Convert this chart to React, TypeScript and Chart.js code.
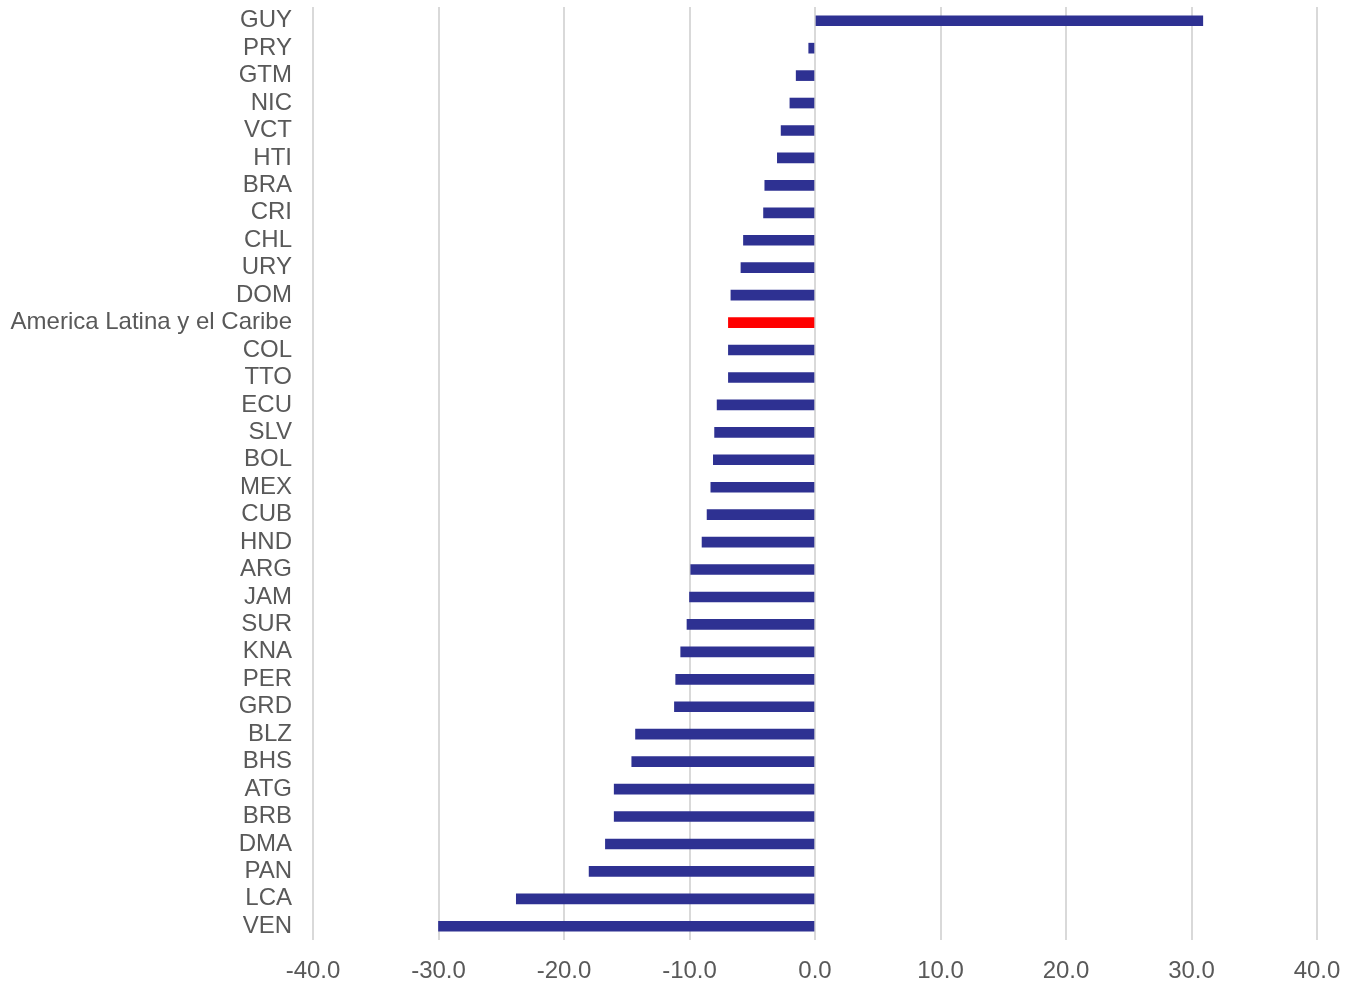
import React, { useEffect, useRef } from "react";
import { Chart, registerables } from "chart.js";

Chart.register(...registerables);

const categories: string[] = [
  "GUY", "PRY", "GTM", "NIC", "VCT", "HTI", "BRA", "CRI", "CHL", "URY", "DOM",
  "America Latina y el Caribe", "COL", "TTO", "ECU", "SLV", "BOL", "MEX", "CUB",
  "HND", "ARG", "JAM", "SUR", "KNA", "PER", "GRD", "BLZ", "BHS", "ATG", "BRB",
  "DMA", "PAN", "LCA", "VEN",
];

const values: number[] = [
  30.9, -0.5, -1.5, -2.0, -2.7, -3.0, -4.0, -4.1, -5.7, -5.9, -6.7,
  -6.9, -6.9, -6.9, -7.8, -8.0, -8.1, -8.3, -8.6,
  -9.0, -9.9, -10.0, -10.2, -10.7, -11.1, -11.2, -14.3, -14.6, -16.0, -16.0,
  -16.7, -18.0, -23.8, -30.0,
];

const highlight = "America Latina y el Caribe";
const xTicks: number[] = [-40, -30, -20, -10, 0, 10, 20, 30, 40];

export default function App() {
  const ref = useRef<HTMLCanvasElement | null>(null);

  useEffect(() => {
    document.body.style.margin = "0";
    const canvas = ref.current;
    if (!canvas) return;
    const chart = new Chart(canvas, {
      type: "bar",
      data: {
        labels: categories,
        datasets: [
          {
            data: values,
            backgroundColor: categories.map((c) => (c === highlight ? "#FF0000" : "#2E3192")),
            barThickness: 10,
          },
        ],
      },
      options: {
        indexAxis: "y",
        animation: false,
        responsive: false,
        maintainAspectRatio: false,
        layout: { padding: { top: 7, right: 31, left: 0, bottom: 0 } },
        plugins: { legend: { display: false }, tooltip: { enabled: false } },
        scales: {
          x: {
            min: -40,
            max: 40,
            afterBuildTicks: (scale: any) => {
              scale.ticks = xTicks.map((v) => ({ value: v }));
            },
            afterFit: (scale: any) => {
              scale.height = 41;
              scale.paddingLeft = 0;
              scale.paddingRight = 0;
              scale.paddingTop = 0;
              scale.paddingBottom = 0;
            },
            grid: { color: "#D9D9D9", lineWidth: 2, drawTicks: false },
            border: { display: false },
            ticks: {
              padding: 17,
              color: "#595959",
              font: { family: "'Liberation Sans', Arial, sans-serif", size: 24 },
              callback: (v: any) => Number(v).toFixed(1),
            },
          },
          y: {
            afterFit: (scale: any) => {
              scale.width = 313;
              scale.paddingLeft = 0;
              scale.paddingRight = 0;
              scale.paddingTop = 0;
              scale.paddingBottom = 0;
            },
            grid: { display: false, drawTicks: false },
            border: { display: false },
            ticks: {
              padding: 21,
              autoSkip: false,
              color: "#595959",
              font: { family: "'Liberation Sans', Arial, sans-serif", size: 24 },
            },
          },
        },
      },
    });
    return () => chart.destroy();
  }, []);

  return (
    <div style={{ width: 1348, height: 981 }}>
      <canvas ref={ref} width={1348} height={981} style={{ width: 1348, height: 981, display: "block" }} />
    </div>
  );
}
